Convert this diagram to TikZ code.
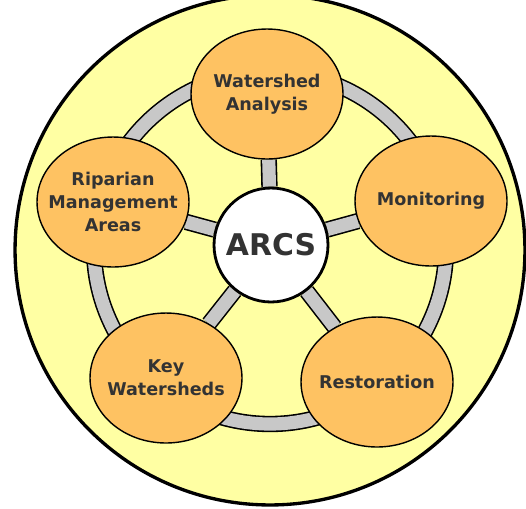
\documentclass[tikz,border=0pt]{standalone}
\usepackage{fontspec}
\setsansfont{DejaVu Sans}
\usetikzlibrary{shapes, positioning}

\definecolor{paleyellow}{RGB}{255,255,163}
\definecolor{topicorange}{RGB}{254,194,98}
\definecolor{ringgray}{RGB}{200,200,200}
\definecolor{textgray}{RGB}{51,51,51}

\pgfdeclarelayer{frame}
\pgfdeclarelayer{links}
\pgfsetlayers{frame,links,main}

\begin{document}
\begin{tikzpicture}[x=0.02cm, y=-0.02cm,
    frame/.style={circle, draw, line width=1.9pt, fill=paleyellow, minimum size=10.2cm},
    topic/.style={ellipse, draw, line width=0.8pt, fill=topicorange, minimum width=3.04cm, minimum height=2.6cm, inner xsep=-7pt, inner ysep=0pt, align=center, text=textgray, font=\sffamily\bfseries\fontsize{10}{13}\selectfont},
    hub/.style={circle, draw, line width=1.6pt, fill=white, minimum size=2.28cm, inner sep=0pt, text=textgray, font=\sffamily\bfseries\fontsize{17}{20}\selectfont},
    link/.style={draw=black, line width=0.9pt, double=ringgray, double distance=7.5pt}
]
    \useasboundingbox (0,0) rectangle (526,508);

    % Hub
    \node [hub] (arcs) at (271,245) {ARCS};
    \coordinate (ringc) at (270,248);

    % Topics
    \node [topic] (analysis) at (267,94) {Watershed\\Analysis};
    \node [topic] (monitor) at (431,201) {Monitoring};
    \node [topic] (restore) at (377,382) {Restoration};
    \node [topic] (keyshed) at (166,378) {Key\\Watersheds};
    \node [topic] (riparian) at (113,202) {Riparian\\Management\\Areas};

    % Frame
    \begin{pgfonlayer}{frame}
        \node [frame] (outer) at (270,250) {};
    \end{pgfonlayer}

    % Ring and spokes
    \begin{pgfonlayer}{links}
        \draw [link] (ringc) circle (176);
        \path [link] (arcs) -- (analysis);
        \path [link] (arcs) -- (monitor);
        \path [link] (arcs) -- (restore);
        \path [link] (arcs) -- (keyshed);
        \path [link] (arcs) -- (riparian);
    \end{pgfonlayer}
\end{tikzpicture}
\end{document}
